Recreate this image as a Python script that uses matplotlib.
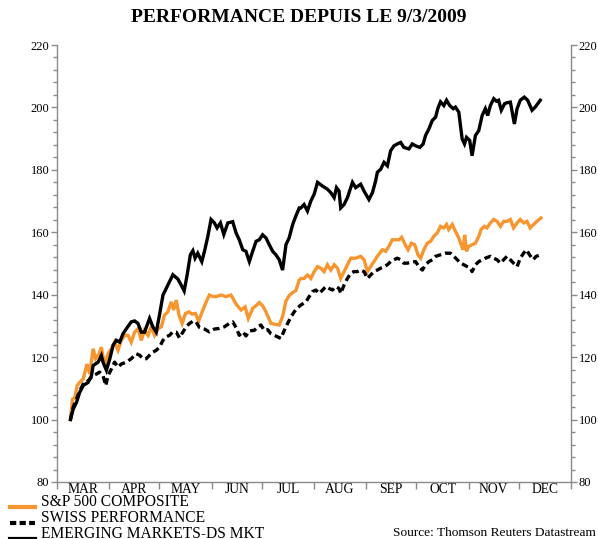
import matplotlib
matplotlib.use('Agg')
import matplotlib.pyplot as plt
import matplotlib.dates as mdates
from matplotlib.ticker import MultipleLocator, FixedLocator, NullFormatter
from matplotlib.lines import Line2D
import numpy as np
from datetime import datetime

plt.rcParams['font.family'] = ['Liberation Serif', 'DejaVu Serif']

title = "PERFORMANCE DEPUIS LE 9/3/2009"
months = ['MAR', 'APR', 'MAY', 'JUN', 'JUL', 'AUG', 'SEP', 'OCT', 'NOV', 'DEC']
series_names = ['S&P 500 COMPOSITE', 'SWISS PERFORMANCE', 'EMERGING MARKETS-DS MKT']
source = 'Source: Thomson Reuters Datastream'

# days since 2009-03-01, values (base 100 on 9/3/2009)
em_days = [8.0, 9.6, 11.6, 13.5, 15.6, 18.5, 20.5, 21.5, 24.5, 26.4, 27.4, 29.4, 31.4, 33.4, 35.3, 37.3,
           39.3, 41.3, 44.2, 46.2, 48.2, 50.2, 52.1, 55.1, 57.1, 59.1, 61.0, 63.1, 65.0, 67.0, 69.0, 72.0,
           73.9, 75.7, 77.5, 79.4, 80.9, 82.2, 83.8, 86.2, 87.8, 89.8, 91.7, 93.7, 95.3, 97.3, 99.3, 101.7,
           104.6, 106.6, 108.5, 110.6, 112.5, 114.5, 116.1, 118.5, 120.4, 122.4, 124.4, 126.4, 128.4, 130.3,
           132.3, 134.3, 136.3, 138.2, 140.3, 142.2, 144.2, 145.2, 147.1, 149.1, 151.1, 153.1, 155.1, 158.1,
           161.0, 163.0, 165.0, 166.4, 167.9, 168.9, 170.9, 172.9, 175.9, 177.8, 180.8, 182.8, 185.7, 187.8,
           189.7, 190.7, 192.7, 194.7, 196.7, 198.6, 200.6, 202.6, 204.6, 206.5, 209.5, 211.5, 213.5, 216.0,
           218.0, 219.4, 221.4, 223.4, 225.4, 226.7, 228.3, 230.3, 231.9, 233.8, 235.9, 237.2, 239.2, 241.2,
           242.6, 243.8, 245.7, 247.1, 249.1, 251.1, 253.1, 255.0, 256.4, 258.0, 260.0, 261.6, 262.9, 264.5,
           266.5, 267.9, 269.9, 272.3, 273.9, 275.8, 278.2, 280.2, 282.8, 284.7, 287.7]
em_vals = [100, 103.3, 105.5, 108.7, 110.9, 111.9, 114, 117.3, 118.4, 120.5, 118.4, 115.8, 119.4, 123.8, 125.4, 124.8,
           127.5, 129.1, 131.3, 131.6, 130.8, 128, 128, 132.4, 129.7, 128, 133.5, 139.9, 142, 144.2, 146.4, 145.0,
           143.1, 141.2, 146.4, 152.8, 154.1, 151.7, 153.3, 150.6, 153.9, 158.7, 164.1, 163, 161.4, 163, 159.3, 163,
           163.4, 159.8, 157.6, 154.4, 153.9, 150.6, 153.3, 157.1, 157.6, 159.2, 158.2, 156, 153.9, 152.8,
           151.2, 147.9, 156, 158.2, 162.5, 165.2, 167.8, 167.8, 168.9, 166.8, 170, 172.2, 176, 174.8,
           173.8, 172.7, 171.1, 174.3, 173.2, 167.8, 168.9, 171.1, 176, 174.3, 175.4, 173.2, 170.5, 172.7,
           176.5, 179.2, 180.2, 182.4, 181.3, 186.1, 187.7, 188.3, 188.8, 187.2, 186.7, 188.3, 187.7, 187.2,
           188.3, 191, 193.1, 195.8, 196.9, 199.6, 201.8, 200.6, 202.3, 200.6, 199.6, 200.1, 198.5, 189.9,
           188.3, 190.4, 189.4, 184.5, 191, 192.6, 197.4, 199.6, 197.4, 200.6, 202.8, 202, 202.3, 199.1,
           201.2, 201.5, 201.7, 194.7, 199.6, 202.3, 203.3, 202.3, 199.1, 200.1, 202.3]

sp_days = [8.0, 9.2, 10.6, 12.0, 13.5, 15.6, 17.9, 19.5, 21.5, 23.0, 25.1, 26.4, 28.4, 30.4, 32.4, 34.3,
           36.3, 38.3, 40.3, 42.3, 44.2, 46.2, 48.2, 50.2, 52.1, 54.2, 56.1, 58.1, 60.1, 62.1, 64.0, 66.0,
           68.0, 69.4, 71.0, 72.6, 74.5, 76.5, 78.5, 80.5, 82.4, 84.3, 86.4, 88.8, 90.7, 92.8, 94.7, 97.7,
           100.6, 103.6, 106.6, 109.6, 112.0, 113.9, 116.5, 118.5, 120.4, 122.4, 124.4, 127.4, 130.3, 132.3,
           134.3, 136.3, 138.2, 140.3, 142.2, 144.2, 145.2, 147.1, 149.1, 151.1, 153.1, 155.1, 157.1, 159.0,
           161.0, 163.0, 165.0, 167.0, 168.9, 170.9, 172.9, 174.9, 177.8, 180.8, 182.8, 184.8, 186.7, 188.7,
           190.7, 193.7, 195.7, 197.6, 199.6, 201.6, 203.6, 205.2, 207.3, 209.0, 211.0, 213.0, 214.9, 216.5,
           218.4, 220.4, 222.4, 224.3, 226.4, 228.3, 230.3, 231.9, 233.2, 235.3, 237.2, 239.2, 240.6, 241.8,
           242.7, 243.8, 245.1, 247.1, 249.1, 251.1, 252.5, 254.4, 256.0, 258.0, 260.0, 262.0, 264.0, 265.9,
           267.9, 269.9, 271.8, 273.9, 275.8, 277.8, 279.8, 281.7, 283.7, 285.7, 288.1]
sp_vals = [100, 106.5, 107, 110.9, 111.9, 113, 117.8, 114.6, 122.7, 119.5, 121.1, 123.2, 117.3, 121.1, 122.7, 124.8,
           122.2, 125.4, 127, 127, 124.8, 128, 129.1, 125.4, 128.6, 127, 129.7, 127, 129.1, 129.7, 133.5, 134.5,
           137.7, 135.1, 138.3, 133.5, 130.8, 134, 134.5, 133.8, 134, 131.5, 134.5, 137.7, 139.9, 139.4, 139.4, 139.9,
           139.4, 139.9, 137, 135.1, 136.1, 132.4, 135.6, 136.5, 137.5, 136.5, 134.5, 130.8, 130.5, 130.3,
           133, 138, 139.7, 140.7, 141.3, 144.7, 145.2, 145.2, 146.3, 145.2, 147.4, 149, 148.5, 147.4,
           149.6, 147.9, 149.6, 148.5, 145.2, 147.4, 149.6, 151.7, 151.7, 152.3, 151.2, 147.4, 149, 150.6,
           152.3, 154.4, 153.9, 155.5, 157.6, 157.6, 157.6, 158.4, 156, 154.4, 156.5, 156, 152.8, 151.7,
           154.4, 156.5, 157.1, 158.7, 159.8, 161.9, 161.4, 162.5, 160.9, 162.5, 160.3, 158.2, 156, 154.4,
           159.2, 153.9, 155.5, 156, 156.5, 158.7, 160.9, 161.9, 161.4, 163, 164.1, 163.5, 161.9, 163.5,
           163.5, 164.1, 161.4, 163, 164.1, 163, 163.5, 161.4, 162.5, 163.5, 164.6]

sw_days = [8.0, 9.6, 11.6, 13.5, 15.6, 17.5, 19.5, 21.5, 23.5, 25.4, 27.4, 29.0, 30.4, 32.4, 34.3, 36.3,
           38.3, 41.3, 44.2, 47.2, 49.2, 51.2, 53.1, 55.1, 57.1, 59.1, 61.0, 63.1, 65.0, 67.0, 69.0, 71.0,
           72.9, 74.9, 76.9, 78.9, 80.9, 82.8, 84.8, 87.8, 90.7, 93.7, 96.7, 99.6, 102.6, 104.6, 106.6, 108.5,
           110.6, 112.5, 114.5, 117.5, 119.5, 121.4, 123.4, 125.4, 127.4, 129.3, 131.3, 133.3, 135.3, 137.3,
           139.3, 141.2, 143.2, 145.2, 148.2, 150.1, 152.1, 154.1, 156.1, 158.1, 160.0, 162.0, 164.0, 166.0,
           167.9, 168.9, 170.9, 172.9, 174.9, 176.8, 178.8, 180.8, 182.8, 184.8, 186.7, 188.7, 190.7, 192.7,
           194.7, 196.7, 198.6, 200.6, 202.6, 204.6, 206.5, 208.5, 210.5, 213.5, 215.4, 217.5, 219.4, 221.4,
           223.4, 225.4, 228.3, 231.3, 234.3, 236.3, 238.3, 240.2, 242.2, 244.2, 246.1, 247.1, 249.1, 251.1,
           253.1, 255.0, 258.0, 260.0, 262.0, 264.0, 265.9, 267.9, 269.9, 271.8, 273.9, 275.8, 277.8, 279.4,
           281.3, 283.4, 285.3, 287.7]
sw_vals = [100, 103.9, 106.5, 109.2, 111.4, 111.9, 113, 114.1, 114.6, 115.2, 114.1, 110.9, 114.1, 116.2, 118.4, 116.8,
           117.8, 118.4, 119.5, 121.1, 120.6, 119.5, 119.5, 120.6, 121.6, 122.2, 123.2, 125.4, 126.5, 127, 128.1, 128,
           126.2, 128, 129.7, 130.8, 131.5, 131.3, 129.5, 129, 128.1, 129, 129.2, 129.7, 130.8, 131.3, 129.5, 127,
           128.1, 126.8, 128.4, 128.6, 129.7, 130.3, 128.6, 128.8, 127.5, 127, 126.5, 126, 128.6, 130.8,
           132.9, 134.5, 135.8, 136.7, 137.7, 139.4, 141, 141.5, 140.4, 141.5, 142.6, 142, 141.5, 142.6,
           142, 140.4, 143.1, 145.2, 146.9, 147.4, 147.4, 147.9, 147.4, 145.2, 146.3, 147.4, 147.9, 148.5,
           149, 149.6, 150.6, 151.2, 151.7, 151.2, 150.1, 150.1, 150.4, 150.6, 149, 147.9, 149.6, 150.6,
           151.2, 152.3, 152.8, 153.3, 153.3, 152.3, 151.2, 150.1, 149.6, 149, 148.5, 147.4, 149.6, 150.6,
           151.2, 151.7, 152.3, 151.7, 151.2, 150.1, 151.2, 152.3, 151.2, 150.1, 149, 151.7, 153.3, 154.4,
           152.8, 151.2, 152.3, 152.8]

ORANGE = '#F7952F'
GRAY = '#8a8a8a'

W, H = 598, 539
fig = plt.figure(figsize=(W / 100, H / 100), dpi=100)
ax = fig.add_axes([57 / W, 1 - 482 / H, (571 - 57) / W, (482 - 45) / H])

base = mdates.date2num(datetime(2009, 3, 1))
end = mdates.date2num(datetime(2010, 1, 1))

ax.plot(base + np.array(sp_days), sp_vals, color=ORANGE, lw=2.4, solid_joinstyle='miter')
ax.plot(base + np.array(sw_days), sw_vals, color='black', lw=2.4, dashes=(2.0, 1.2))
ax.plot(base + np.array(em_days), em_vals, color='black', lw=2.4, solid_joinstyle='miter')

ax.set_xlim(base, end)
ax.set_ylim(80, 220)

ax.yaxis.set_major_locator(MultipleLocator(20))
ax.yaxis.set_minor_locator(MultipleLocator(4))
ax.tick_params(axis='y', which='both', left=True, right=True, labelleft=True, labelright=True,
               direction='out', colors=GRAY, labelcolor='black', labelsize=9)
ax.tick_params(axis='y', which='major', length=4, width=1, pad=1.5)
ax.tick_params(axis='y', which='minor', length=3, width=1)

month_starts = [mdates.date2num(datetime(2009, m, 1)) for m in range(3, 13)] + [end]
mids = [(a + b) / 2 for a, b in zip(month_starts[:-1], month_starts[1:])]
ax.xaxis.set_major_locator(FixedLocator(month_starts))
ax.xaxis.set_major_formatter(NullFormatter())
ax.xaxis.set_minor_locator(FixedLocator(mids))
ax.set_xticklabels(months, minor=True)
ax.tick_params(axis='x', which='major', direction='out', length=5, width=1, colors=GRAY)
ax.tick_params(axis='x', which='minor', length=0, labelsize=9.8, labelcolor='black', pad=0.5)

ax.spines['top'].set_visible(False)
for s in ['left', 'right', 'bottom']:
    ax.spines[s].set_color(GRAY)
    ax.spines[s].set_linewidth(1)

fig.text(0.5, 1 - 18 / H, title, ha='center', va='center', fontsize=14, fontweight='bold')

# manual legend (three rows, 16 px apart)
legend_styles = [dict(color=ORANGE), dict(color='black', dashes=(1.5, 0.8)), dict(color='black')]
for i, (name, st) in enumerate(zip(series_names, legend_styles)):
    yc = 1 - (502 + 16 * i) / H
    fig.add_artist(Line2D([10 / W, 35 / W], [yc - 5 / H, yc - 5 / H], lw=3,
                          transform=fig.transFigure, **st))
    fig.text(41 / W, yc, name, ha='left', va='center', fontsize=11.2)

fig.text(596 / W, 1 - 533 / H, source, ha='right', va='center', fontsize=9.6)

fig.savefig('out.png', dpi=100)
